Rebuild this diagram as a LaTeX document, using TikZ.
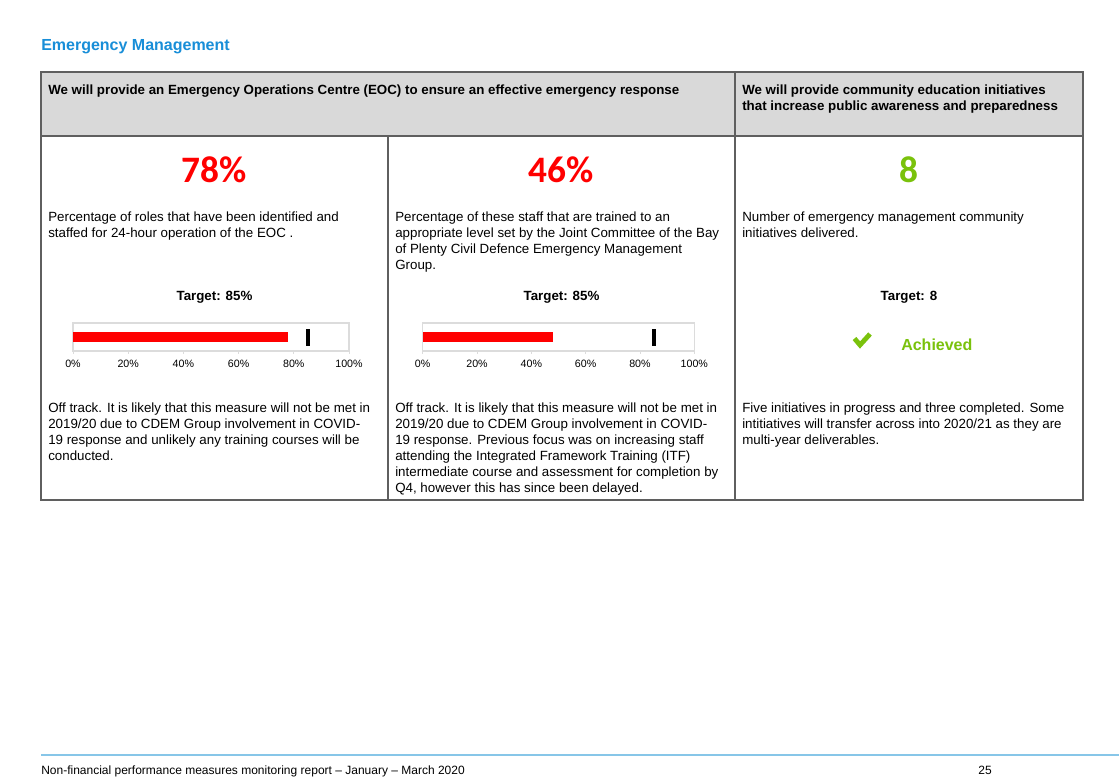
\documentclass[tikz,border=0pt]{standalone}
\usepackage{fontspec}
\setmainfont{Liberation Sans}
\newfontfamily\calibfont{Carlito}
\definecolor{titleblue}{RGB}{24,142,216}
\definecolor{hdrgray}{RGB}{217,217,217}
\definecolor{bordergray}{RGB}{95,95,95}
\definecolor{okgreen}{RGB}{122,194,12}
\definecolor{barred}{RGB}{255,0,0}
\definecolor{framegray}{RGB}{220,220,220}
\definecolor{footblue}{RGB}{135,198,232}
\begin{document}
\begin{tikzpicture}[x=0.75pt,y=-0.75pt,
  txt/.style={font=\fontsize{10}{12}\selectfont, inner sep=0, align=left, anchor=base west},
  hdr/.style={font=\fontsize{10}{12}\selectfont\bfseries, inner sep=0, align=left, anchor=base west},
  bignum/.style={font={\calibfont\bfseries\fontsize{28}{30}\selectfont}, inner sep=0, anchor=base},
  tgt/.style={font=\fontsize{10}{12}\selectfont\bfseries, inner sep=0, anchor=base},
  ticklab/.style={font=\fontsize{8}{9}\selectfont, inner sep=0, anchor=base},
  border/.style={draw=bordergray, line width=1.1pt},
  barframe/.style={draw=framegray, line width=0.8pt},
  tickmark/.style={draw=framegray, line width=0.6pt}]
\useasboundingbox (0,0) rectangle (1119,782);
\fill[white] (0,0) rectangle (1119,782);

% title
\node[font=\fontsize{12}{14}\selectfont\bfseries, text=titleblue, inner sep=0, anchor=base west] (title) at (41,50) {Emergency Management};

% table
\fill[hdrgray] (41,72) rectangle (1083,136);
\draw[border] (41,136) -- (1083,136);
\draw[border] (735,72) -- (735,500);
\draw[border] (388,136) -- (388,500);
\draw[border] (41,72) rectangle (1083,500);

% headers (base anchor = baseline of the last line)
\node[hdr] (h1) at (48,94) {We will provide an Emergency Operations Centre (EOC) to ensure an effective emergency response};
\node[hdr] (h2) at (742,110) {We will provide community education initiatives\\that increase public awareness and preparedness};

% big numbers
\node[bignum, text=barred] (n1) at (214.5,182) {78\%};
\node[bignum, text=barred] (n2) at (561.5,182) {46\%};
\node[bignum, text=okgreen] (n3) at (909,182) {8};

% descriptions
\node[txt] (d1) at (48,237) {Percentage of roles that have been identified and\\staffed for 24-hour operation of the EOC .};
\node[txt] (d2) at (395,269) {Percentage of these staff that are trained to an\\appropriate level set by the Joint Committee of the Bay\\of Plenty Civil Defence Emergency Management\\Group.};
\node[txt] (d3) at (742,237) {Number of emergency management community\\initiatives delivered.};

% targets
\node[tgt] (t1) at (214.5,300) {Target: 85\%};
\node[tgt] (t2) at (561.5,300) {Target: 85\%};
\node[tgt] (t3) at (909,300) {Target: 8};

% bar chart 1
\draw[barframe] (73,323) rectangle (349,351);
\fill[barred] (73,332) rectangle (288,342);
\fill[black] (305.5,329) rectangle (309.5,346);
\foreach \i/\l in {0/0,1/20,2/40,3/60,4/80,5/100}{
  \draw[tickmark] ({73+55.2*\i},351) -- ++(0,3);
  \node[ticklab] (ba\i) at ({73+55.2*\i},367) {\l\%};
}

% bar chart 2
\draw[barframe] (422.7,323) rectangle (694.3,351);
\fill[barred] (422.7,332) rectangle (552.7,342);
\fill[black] (651.5,329) rectangle (655.5,346);
\foreach \i/\l in {0/0,1/20,2/40,3/60,4/80,5/100}{
  \draw[tickmark] ({422.7+54.32*\i},351) -- ++(0,3);
  \node[ticklab] (bb\i) at ({422.7+54.32*\i},367) {\l\%};
}

% achieved
\draw[okgreen, line width=3.6pt, line join=miter] (854.5,338.5) -- (860,345) -- (870,334);
\node[font=\fontsize{12}{14}\selectfont\bfseries, text=okgreen, inner sep=0, anchor=base west] (ach) at (901,350) {Achieved};

% comments
\node[txt] (c1) at (48,460) {Off track. It is likely that this measure will not be met in\\2019/20 due to CDEM Group involvement in COVID-\\19 response and unlikely any training courses will be\\conducted.};
\node[txt] (c2) at (395,492) {Off track. It is likely that this measure will not be met in\\2019/20 due to CDEM Group involvement in COVID-\\19 response. Previous focus was on increasing staff\\attending the Integrated Framework Training (ITF)\\intermediate course and assessment for completion by\\Q4, however this has since been delayed.};
\node[txt] (c3) at (742,444) {Five initiatives in progress and three completed. Some\\intitiatives will transfer across into 2020/21 as they are\\multi-year deliverables.};

% footer
\draw[footblue, line width=1.5pt] (41,755) -- (1119,755);
\node[font=\fontsize{9}{11}\selectfont, inner sep=0, anchor=base west] (foot) at (41,774) {Non-financial performance measures monitoring report -- January -- March 2020};
\node[font=\fontsize{9}{11}\selectfont, inner sep=0, anchor=base] (page) at (985,774) {25};
\end{tikzpicture}
\end{document}
